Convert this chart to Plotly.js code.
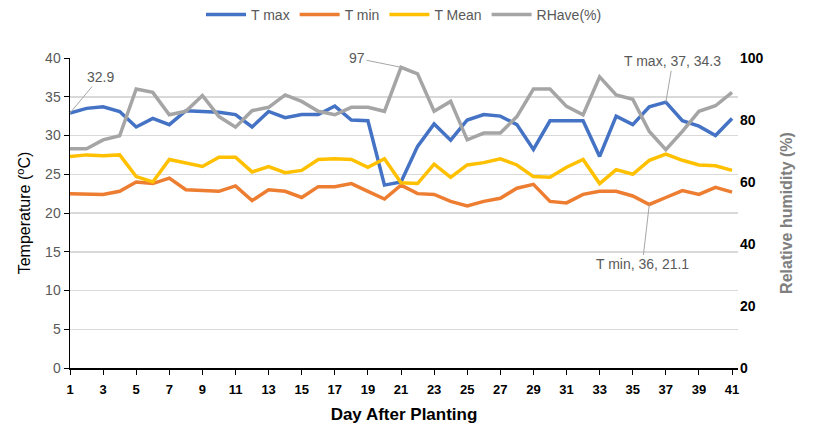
<!DOCTYPE html>
<html>
<head>
<meta charset="utf-8">
<script src="https://cdn.plot.ly/plotly-3.0.1.min.js"></script>
<style>html,body{margin:0;padding:0;background:#fff;}#chart{width:819px;height:428px;}</style>
</head>
<body>
<div id="chart"></div>
<script>
const days = Array.from({length: 41}, (_, i) => i + 1);
const tickDays = [1,3,5,7,9,11,13,15,17,19,21,23,25,27,29,31,33,35,37,39,41];
const tMax = [32.9,33.5,33.7,33.1,31.1,32.2,31.4,33.2,33.1,33.0,
              32.7,31.1,33.1,32.3,32.7,32.7,33.8,32.0,31.9,23.6,
              24.0,28.6,31.5,29.4,32.0,32.7,32.5,31.4,28.2,31.9,
              31.9,31.9,27.3,32.5,31.4,33.7,34.3,31.9,31.2,30.0,32.2];
const tMin = [22.5,22.5,22.4,22.8,24.0,23.8,24.5,23.0,22.9,22.8,
              23.5,21.6,23.0,22.8,22.0,23.4,23.4,23.8,22.8,21.8,
              23.6,22.5,22.4,21.5,20.9,21.5,21.9,23.2,23.7,21.5,
              21.3,22.4,22.8,22.8,22.2,21.1,22.0,22.9,22.4,23.3,22.7];
const tMean = [27.3,27.5,27.4,27.5,24.7,24.0,26.9,26.5,26.0,27.2,
               27.2,25.3,26.0,25.2,25.5,26.9,27.0,26.9,25.9,27.0,
               23.9,23.8,26.3,24.6,26.2,26.5,27.0,26.2,24.7,24.6,
               25.9,26.9,23.8,25.6,25.0,26.8,27.6,26.8,26.2,26.1,25.5];
const rhAve = [70.7,70.7,73.6,74.9,90.0,88.9,81.7,82.8,87.9,81.1,
               77.7,83.0,84.1,88.1,86.0,82.8,81.7,84.1,84.1,82.8,
               97.0,94.9,82.8,86.0,73.6,75.8,75.8,81.1,90.0,90.0,
               84.4,81.7,93.9,88.1,86.7,76.3,70.4,76.3,82.8,84.6,88.9];
const seriesNames = ['T max','T min','T Mean','RHave(%)'];

const lw = 3.5;
const traces = [
  {x: days, y: tMax, name: seriesNames[0], type: 'scatter', mode: 'lines', line: {color: '#4472C4', width: lw}},
  {x: days, y: tMin, name: seriesNames[1], type: 'scatter', mode: 'lines', line: {color: '#ED7D31', width: lw}},
  {x: days, y: tMean, name: seriesNames[2], type: 'scatter', mode: 'lines', line: {color: '#FFC000', width: lw}},
  {x: days, y: rhAve, name: seriesNames[3], type: 'scatter', mode: 'lines', yaxis: 'y2', line: {color: '#A5A5A5', width: lw}}
];

const annFont = {family: 'Liberation Sans, Arial, sans-serif', size: 14, color: '#595959'};
const layout = {
  width: 819, height: 428,
  margin: {l: 70, r: 81, t: 58, b: 60},
  paper_bgcolor: '#fff', plot_bgcolor: '#fff',
  font: {family: 'Liberation Sans, Arial, sans-serif', color: '#595959', size: 13},
  showlegend: true,
  legend: {orientation: 'h', x: 0.5, xref: 'paper', xanchor: 'center', y: 0.965, yref: 'container', yanchor: 'middle',
           font: {size: 14, color: '#595959'}, itemwidth: 40},
  xaxis: {
    range: [1, 41.36], tickvals: tickDays, ticktext: tickDays.map(String),
    showgrid: false, zeroline: false, showline: true, linecolor: '#000', linewidth: 1.5,
    ticks: 'outside', ticklen: 5, tickcolor: '#000', ticklabelstandoff: 4,
    tickfont: {family: 'Liberation Sans Narrow, Arial Narrow, sans-serif', size: 13, color: '#000', weight: 'bold'},
    title: {text: 'Day After Planting', standoff: 12,
            font: {family: 'Liberation Sans Narrow, Arial Narrow, sans-serif', size: 17, color: '#000', weight: 'bold'}}
  },
  yaxis: {
    range: [0, 40], dtick: 5, showgrid: true, gridcolor: '#d9d9d9', gridwidth: 1.5,
    zeroline: false, showline: true, linecolor: '#000', linewidth: 1.5,
    ticks: 'outside', ticklen: 5, tickcolor: '#000',
    tickfont: {size: 14, color: '#595959'},
    title: {text: 'Temperature (<sup>o</sup>C)', standoff: 10, font: {size: 16, color: '#000'}}
  },
  yaxis2: {
    range: [0, 100], dtick: 20, overlaying: 'y', side: 'right', showgrid: false, zeroline: false,
    showline: false, ticks: '', ticklabelstandoff: 1,
    tickfont: {size: 14, color: '#000', weight: 'bold'},
    title: {text: 'Relative humidity (%)', standoff: 18, font: {size: 16, color: '#7f7f7f', weight: 'bold'}}
  },
  annotations: [
    {x: days[0], y: tMax[0], xref: 'x', yref: 'y', text: String(tMax[0]), showarrow: true, arrowhead: 0,
     arrowwidth: 1, arrowcolor: '#a6a6a6', ax: 30, ay: -36, font: annFont},
    {x: days[20], y: rhAve[20], xref: 'x', yref: 'y2', text: String(Math.round(rhAve[20])), showarrow: true, arrowhead: 0,
     arrowwidth: 1, arrowcolor: '#a6a6a6', ax: -44, ay: -9, font: annFont},
    {x: days[36], y: tMax[36], xref: 'x', yref: 'y', text: 'T max, ' + days[36] + ', ' + tMax[36], showarrow: true, arrowhead: 0,
     arrowwidth: 1, arrowcolor: '#a6a6a6', ax: 7, ay: -41, font: annFont},
    {x: days[35], y: tMin[35], xref: 'x', yref: 'y', text: 'T min, ' + days[35] + ', ' + tMin[35], showarrow: true, arrowhead: 0,
     arrowwidth: 1, arrowcolor: '#a6a6a6', ax: -7, ay: 60, font: annFont}
  ]
};

Plotly.newPlot('chart', traces, layout, {displayModeBar: false, staticPlot: true});
</script>
</body>
</html>
